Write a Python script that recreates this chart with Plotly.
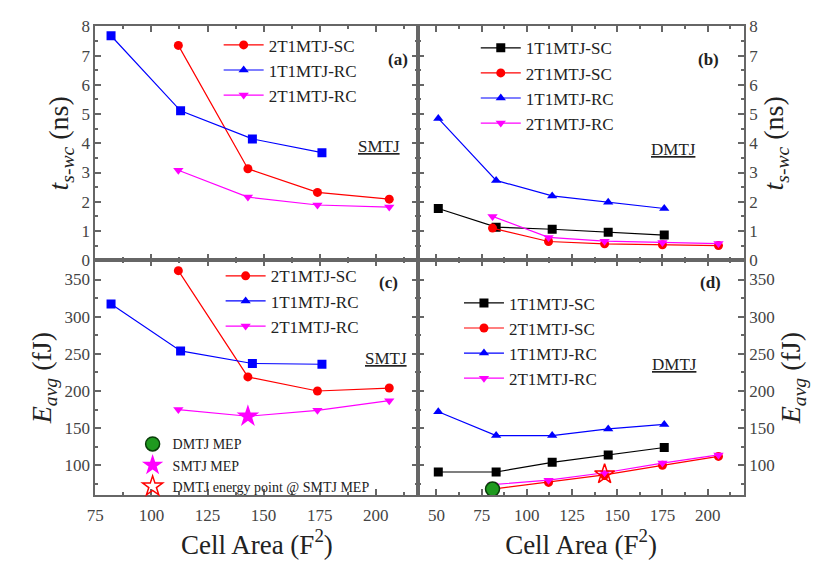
import plotly.graph_objects as go

# ---------------- data ----------------
# SMTJ (panels a, c)
x_smtj_1t = [82, 113, 145, 176]
x_smtj_2t = [112, 143, 174, 206]
t_smtj_2t_sc = [7.35, 3.13, 2.32, 2.09]
t_smtj_1t_rc = [7.68, 5.11, 4.15, 3.68]
t_smtj_2t_rc = [3.08, 2.16, 1.89, 1.82]
e_smtj_2t_sc = [362, 219, 200, 204]
e_smtj_1t_rc = [317, 254, 237, 236]
e_smtj_2t_rc = [175, 166, 174, 187]

# DMTJ (panels b, d)
x_dmtj_1t = [51, 83, 114, 145, 176]
x_dmtj_2t = [81, 112, 143, 175, 206]
t_dmtj_1t_sc = [1.77, 1.13, 1.06, 0.96, 0.86]
t_dmtj_2t_sc = [1.10, 0.64, 0.56, 0.53, 0.50]
t_dmtj_1t_rc = [4.85, 2.73, 2.20, 1.98, 1.77]
t_dmtj_2t_rc = [1.50, 0.78, 0.65, 0.61, 0.57]
e_dmtj_1t_sc = [91, 91, 104, 114, 124]
e_dmtj_2t_sc = [68, 77, 87, 100, 112]
e_dmtj_1t_rc = [172, 140, 140, 149, 155]
e_dmtj_2t_rc = [74, 80, 90, 103, 114]

# minimum energy points
dmtj_mep_x, dmtj_mep_y = [81], [68]
smtj_mep_x, smtj_mep_y = [143], [166]
dmtj_at_smtj_x, dmtj_at_smtj_y = [143], [88]

names = ["1T1MTJ-SC", "2T1MTJ-SC", "1T1MTJ-RC", "2T1MTJ-RC"]
colors = {"1T1MTJ-SC": "black", "2T1MTJ-SC": "#ff0000",
          "1T1MTJ-RC": "#0000ff", "2T1MTJ-RC": "#ff00ff"}
symbols = {"1T1MTJ-SC": "square", "2T1MTJ-SC": "circle",
           "1T1MTJ-RC": "triangle-up", "2T1MTJ-RC": "triangle-down"}

W, H = 813, 563
def px(v): return v / W
def py(v): return 1 - v / H

FONT = "Liberation Serif"
fig = go.Figure()

def line(x, y, name, xa, ya, symbol=None, size=9):
    fig.add_trace(go.Scatter(
        x=x, y=y, mode="lines+markers", xaxis=xa, yaxis=ya, showlegend=False,
        line=dict(color=colors[name], width=1.2),
        marker=dict(symbol=symbol or symbols[name], size=size, color=colors[name]),
        name=name))

def leg(name, xa, ya, legend):
    fig.add_trace(go.Scatter(
        x=[None], y=[None], mode="lines+markers", xaxis=xa, yaxis=ya,
        line=dict(color=colors[name], width=1.2),
        marker=dict(symbol=symbols[name], size=9, color=colors[name]),
        name=name, legend=legend, showlegend=True))

# panel (a)
line(x_smtj_2t, t_smtj_2t_sc, "2T1MTJ-SC", "x", "y")
line(x_smtj_1t, t_smtj_1t_rc, "1T1MTJ-RC", "x", "y", symbol="square")
line(x_smtj_2t, t_smtj_2t_rc, "2T1MTJ-RC", "x", "y")
for n in ["2T1MTJ-SC", "1T1MTJ-RC", "2T1MTJ-RC"]:
    leg(n, "x", "y", "legend")

# panel (b)
line(x_dmtj_1t, t_dmtj_1t_sc, "1T1MTJ-SC", "x2", "y2")
line(x_dmtj_2t, t_dmtj_2t_sc, "2T1MTJ-SC", "x2", "y2")
line(x_dmtj_1t, t_dmtj_1t_rc, "1T1MTJ-RC", "x2", "y2")
line(x_dmtj_2t, t_dmtj_2t_rc, "2T1MTJ-RC", "x2", "y2")
for n in names:
    leg(n, "x2", "y2", "legend2")

# panel (c)
line(x_smtj_2t, e_smtj_2t_sc, "2T1MTJ-SC", "x3", "y3")
line(x_smtj_1t, e_smtj_1t_rc, "1T1MTJ-RC", "x3", "y3", symbol="square")
line(x_smtj_2t, e_smtj_2t_rc, "2T1MTJ-RC", "x3", "y3")
for n in ["2T1MTJ-SC", "1T1MTJ-RC", "2T1MTJ-RC"]:
    leg(n, "x3", "y3", "legend3")

# panel (d)
line(x_dmtj_1t, e_dmtj_1t_sc, "1T1MTJ-SC", "x4", "y4")
line(x_dmtj_2t, e_dmtj_2t_sc, "2T1MTJ-SC", "x4", "y4")
line(x_dmtj_1t, e_dmtj_1t_rc, "1T1MTJ-RC", "x4", "y4")
line(x_dmtj_2t, e_dmtj_2t_rc, "2T1MTJ-RC", "x4", "y4")
for n in names:
    leg(n, "x4", "y4", "legend4")

# MEP markers
fig.add_trace(go.Scatter(x=dmtj_mep_x, y=dmtj_mep_y, mode="markers", xaxis="x4", yaxis="y4",
                         marker=dict(symbol="circle", size=14, color="#1f9a1f",
                                     line=dict(color="#0a3d0a", width=1.5)),
                         name="DMTJ MEP", legend="legend5"))
fig.add_trace(go.Scatter(x=smtj_mep_x, y=smtj_mep_y, mode="markers", xaxis="x3", yaxis="y3",
                         marker=dict(symbol="star", size=17, color="#ff00ff"),
                         name="SMTJ MEP", legend="legend5"))
fig.add_trace(go.Scatter(x=dmtj_at_smtj_x, y=dmtj_at_smtj_y, mode="markers", xaxis="x4", yaxis="y4",
                         marker=dict(symbol="star-open", size=15, color="#ff0000",
                                     line=dict(width=1.5)),
                         name="DMTJ energy point @ SMTJ MEP", legend="legend5"))

# ---------------- axes ----------------
xl = [px(87.3), px(414)]
xr = [px(414), px(743)]
yt = [py(260), py(18)]
yb = [py(503), py(260)]
AX = "#666666"
tickfont = dict(family=FONT, size=17, color="#444444")

def xaxis(dom, rng, anchor, labels, dtick_start):
    return dict(domain=dom, range=rng, anchor=anchor, showline=True, linecolor=AX, linewidth=2,
                mirror="allticks", ticks="inside", ticklen=6, tickwidth=1.5, tickcolor=AX,
                tick0=dtick_start, dtick=25, showgrid=False, zeroline=False,
                showticklabels=labels, tickfont=tickfont, ticklabelstandoff=4,
                minor=dict(ticks="inside", ticklen=3, tickwidth=1.5, tickcolor=AX, dtick=12.5,
                           tick0=dtick_start, showgrid=False))

def yaxis(dom, rng, anchor, side, dtick, minor, title=None):
    d = dict(domain=dom, range=rng, anchor=anchor, side=side, showline=True, linecolor=AX,
             linewidth=2, mirror="allticks", ticks="inside", ticklen=6, tickwidth=1.5,
             tickcolor=AX, dtick=dtick, tick0=0, showgrid=False, zeroline=False,
             tickfont=tickfont,
             minor=dict(ticks="inside", ticklen=3, tickwidth=1.5, tickcolor=AX, dtick=minor,
                        tick0=0, showgrid=False))
    if title:
        d["title"] = dict(text=title, font=dict(family=FONT, size=28, color="#222"), standoff=5)
    return d

t_title = "<i>t</i><sub><i>s-wc</i></sub> (ns)"
e_title = "<i>E</i><sub><i>avg</i></sub> (fJ)"

fig.update_layout(
    width=W, height=H, margin=dict(l=0, r=0, t=0, b=0),
    paper_bgcolor="white", plot_bgcolor="white",
    font=dict(family=FONT, color="#222"),
    xaxis=xaxis(xl, [75, 219], "y", False, 75),
    yaxis=yaxis(yt, [0, 8], "x", "left", 1, 0.5, t_title),
    xaxis2=xaxis(xr, [40, 220], "y2", False, 50),
    yaxis2=yaxis(yt, [0, 8], "x2", "right", 1, 0.5, t_title),
    xaxis3=xaxis(xl, [75, 219], "y3", True, 75),
    yaxis3=yaxis(yb, [60, 376], "x3", "left", 50, 25, e_title),
    xaxis4=xaxis(xr, [40, 220], "y4", True, 50),
    yaxis4=yaxis(yb, [60, 376], "x4", "right", 50, 25, e_title),
)
for ax in (fig.layout.xaxis3, fig.layout.xaxis4):
    ax.title = dict(text="Cell Area (F<sup>2</sup>)", font=dict(family=FONT, size=27, color="#222"), standoff=10)

def legend_at(x, y, size=17, gap=4, iw=40):
    return dict(x=px(x), y=py(y), xanchor="left", yanchor="top", bgcolor="rgba(0,0,0,0)",
                font=dict(family=FONT, size=size, color="#222"), itemwidth=iw,
                tracegroupgap=gap)

fig.update_layout(
    legend=legend_at(212, 19),
    legend2=legend_at(472, 22),
    legend3=legend_at(214, 258),
    legend4=legend_at(455, 286),
    legend5=legend_at(125, 434, size=14, iw=30),
)

ann = []
def label(text, x, y, size=16, bold=False):
    ann.append(dict(text=f"<b>{text}</b>" if bold else text, x=px(x), y=py(y), xref="paper",
                    yref="paper", showarrow=False, font=dict(family=FONT, size=size, color="#222")))
label("(a)", 393, 40, 17, True)
label("(b)", 720, 40, 17, True)
label("(c)", 384, 283, 17, True)
label("(d)", 722, 283, 17, True)
label("<u>SMTJ</u>", 374, 130, 17)
label("<u>DMTJ</u>", 697, 133, 17)
label("<u>SMTJ</u>", 381, 362, 17)
label("<u>DMTJ</u>", 698, 368, 17)
fig.update_layout(annotations=ann)

fig.write_html("out.html")
